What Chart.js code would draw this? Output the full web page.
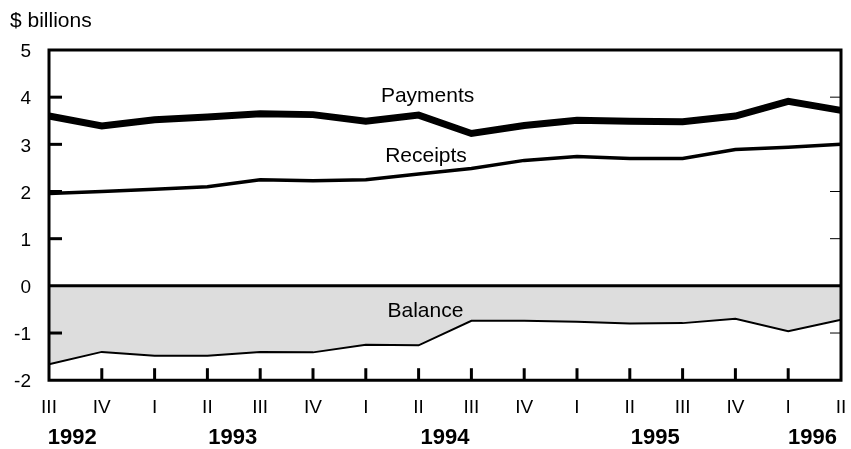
<!DOCTYPE html>
<html><head><meta charset="utf-8">
<script src="https://cdn.jsdelivr.net/npm/chart.js@4/dist/chart.umd.min.js"></script>
<style>html,body{margin:0;padding:0;background:#fff;}canvas{display:block;}</style>
</head><body>
<canvas id="c" width="851" height="449"></canvas>
<script>
const quarters = ['III','IV','I','II','III','IV','I','II','III','IV','I','II','III','IV','I','II'];
const payments = [3.60,3.39,3.52,3.58,3.65,3.63,3.49,3.62,3.23,3.40,3.51,3.49,3.48,3.60,3.91,3.72];
const receipts = [1.96,2.00,2.05,2.10,2.25,2.23,2.25,2.37,2.49,2.66,2.74,2.70,2.70,2.89,2.94,3.00];
const balance  = [-1.66,-1.40,-1.48,-1.48,-1.40,-1.41,-1.25,-1.26,-0.74,-0.74,-0.76,-0.80,-0.79,-0.70,-0.96,-0.72];
const years = ['1992','1993','1994','1995','1996'];
const yearPos = [0.44,3.48,7.5,11.48,14.46];
const seriesLabels = [['Payments',7.17,4.01],['Receipts',7.14,2.74],['Balance',7.13,-0.54]];
const yTicks = [5,4,3,2,1,0,-1,-2];
const FONT = '"Liberation Sans", Arial, sans-serif';

const deco = {
  id:'deco',
  afterDatasetsDraw(chart){
    const ctx = chart.ctx, a = chart.chartArea, x = chart.scales.x, y = chart.scales.y;
    ctx.save();
    ctx.strokeStyle = '#000';
    ctx.lineCap = 'butt';
    ctx.lineWidth = 3;
    ctx.beginPath(); ctx.moveTo(a.left, y.getPixelForValue(0)); ctx.lineTo(a.right, y.getPixelForValue(0)); ctx.stroke();
    ctx.beginPath();
    ctx.moveTo(a.left, a.top); ctx.lineTo(a.right, a.top);
    ctx.moveTo(a.left, a.bottom); ctx.lineTo(a.right, a.bottom);
    ctx.moveTo(a.left, a.top-1.5); ctx.lineTo(a.left, a.bottom+1.5);
    ctx.moveTo(a.right, a.top-1.5); ctx.lineTo(a.right, a.bottom+1.5);
    ctx.stroke();
    yTicks.forEach(v=>{
      if (v===5||v===-2||v===0) return;
      const py = y.getPixelForValue(v);
      ctx.lineWidth = 3;
      ctx.beginPath(); ctx.moveTo(a.left, py); ctx.lineTo(a.left+13, py); ctx.stroke();
      ctx.lineWidth = 1;
      ctx.beginPath(); ctx.moveTo(a.right, py); ctx.lineTo(a.right-11, py); ctx.stroke();
    });
    ctx.lineWidth = 3;
    quarters.forEach((q,i)=>{
      if (i===0||i===quarters.length-1) return;
      const px = x.getPixelForValue(i);
      ctx.beginPath(); ctx.moveTo(px, a.bottom); ctx.lineTo(px, a.bottom-12); ctx.stroke();
    });
    ctx.fillStyle = '#000';
    ctx.font = 'bold 22px ' + FONT;
    ctx.textAlign = 'center'; ctx.textBaseline = 'middle';
    years.forEach((t,i)=>{ ctx.fillText(t, x.getPixelForValue(yearPos[i]), 438); });
    ctx.font = '21px ' + FONT;
    seriesLabels.forEach(s=>{ ctx.fillText(s[0], x.getPixelForValue(s[1]), y.getPixelForValue(s[2])); });
    ctx.textAlign = 'left';
    ctx.fillText('$ billions', 10, 21);
    ctx.restore();
  }
};

new Chart(document.getElementById('c'), {
  type:'line',
  data:{
    labels: quarters,
    datasets:[
      {label:'Balance', data:balance, borderColor:'#000', borderWidth:2, backgroundColor:'#dddddd', fill:'origin', pointRadius:0, tension:0, order:3},
      {label:'Receipts', data:receipts, borderColor:'#000', borderWidth:3.5, fill:false, pointRadius:0, tension:0, order:2},
      {label:'Payments', data:payments, borderColor:'#000', borderWidth:7, fill:false, pointRadius:0, tension:0, order:1}
    ]
  },
  options:{
    responsive:false, animation:false, devicePixelRatio:1,
    layout:{padding:{left:0, right:10, top:50, bottom:26}},
    plugins:{legend:{display:false}, tooltip:{enabled:false}, title:{display:false}},
    scales:{
      x:{type:'category', offset:false, grid:{display:false, drawTicks:true, tickLength:12}, border:{display:false},
         ticks:{color:'#000', font:{size:19, family:FONT}, padding:4, maxRotation:0, autoSkip:false}},
      y:{min:-2, max:5, grid:{display:false, drawTicks:false}, border:{display:false},
         afterFit(scale){ scale.width = 49; },
         ticks:{stepSize:1, color:'#000', font:{size:19, family:FONT}, padding:18, labelOffset:2}}
    }
  },
  plugins:[deco]
});
</script>
</body></html>
